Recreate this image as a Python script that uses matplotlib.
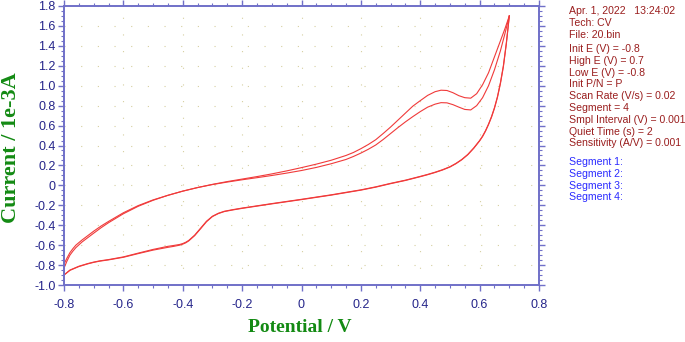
import matplotlib
matplotlib.use('Agg')
import matplotlib.pyplot as plt
from matplotlib.ticker import MultipleLocator, FuncFormatter

# forward (positive-going) scans, two cycles
potential_fwd = [-0.8, -0.79, -0.78, -0.77, -0.76, -0.74, -0.72, -0.7, -0.675, -0.65, -0.6, -0.55, -0.5,
                 -0.45, -0.4, -0.35, -0.3, -0.25, -0.2, -0.15, -0.1, -0.05, 0.0, 0.05, 0.1, 0.15,
                 0.175, 0.2, 0.225, 0.25, 0.275, 0.3, 0.325, 0.35, 0.375, 0.4, 0.425, 0.45, 0.47,
                 0.49, 0.51, 0.53, 0.55, 0.57, 0.59, 0.61, 0.63, 0.65, 0.67, 0.685, 0.7]
current_fwd_1 = [-0.83, -0.76, -0.70, -0.66, -0.625, -0.57, -0.525, -0.48, -0.425, -0.375, -0.285, -0.21, -0.15,
                 -0.10, -0.058, -0.022, 0.01, 0.038, 0.063, 0.088, 0.115, 0.145, 0.178, 0.213, 0.252, 0.3,
                 0.33, 0.368, 0.41, 0.458, 0.52, 0.585, 0.655, 0.725, 0.795, 0.85, 0.903, 0.94, 0.955,
                 0.952, 0.93, 0.90, 0.88, 0.875, 0.92, 1.01, 1.13, 1.29, 1.45, 1.57, 1.70]
current_fwd_2 = [-0.79, -0.73, -0.675, -0.635, -0.60, -0.55, -0.505, -0.46, -0.408, -0.362, -0.275, -0.203, -0.146,
                 -0.10, -0.058, -0.022, 0.008, 0.033, 0.056, 0.077, 0.099, 0.123, 0.149, 0.18, 0.217, 0.26,
                 0.29, 0.324, 0.362, 0.405, 0.46, 0.52, 0.58, 0.637, 0.69, 0.74, 0.785, 0.815, 0.83,
                 0.828, 0.81, 0.785, 0.762, 0.757, 0.80, 0.88, 1.00, 1.16, 1.35, 1.52, 1.70]

# reverse (negative-going) scans, two cycles
potential_rev = [0.7, 0.69, 0.68, 0.67, 0.66, 0.65, 0.64, 0.63, 0.62, 0.61, 0.6, 0.58, 0.56,
                 0.54, 0.52, 0.5, 0.475, 0.45, 0.425, 0.4, 0.35, 0.3, 0.25, 0.2, 0.1, 0.0,
                 -0.1, -0.2, -0.23, -0.26, -0.28, -0.3, -0.32, -0.34, -0.36, -0.38, -0.39, -0.4,
                 -0.41, -0.43, -0.45, -0.5, -0.55, -0.6, -0.65, -0.68, -0.7, -0.72, -0.75, -0.78, -0.8]
current_rev_1 = [1.70, 1.43, 1.20, 1.03, 0.89, 0.78, 0.69, 0.615, 0.55, 0.495, 0.45, 0.375, 0.31,
                 0.26, 0.22, 0.187, 0.157, 0.132, 0.11, 0.09, 0.052, 0.02, -0.015, -0.045, -0.095, -0.14,
                 -0.183, -0.228, -0.243, -0.26, -0.28, -0.31, -0.36, -0.43, -0.50, -0.553, -0.571, -0.584,
                 -0.593, -0.603, -0.612, -0.643, -0.68, -0.718, -0.745, -0.758, -0.77, -0.785, -0.812, -0.85, -0.90]
current_rev_2 = [1.70, 1.42, 1.19, 1.02, 0.882, 0.773, 0.684, 0.61, 0.545, 0.49, 0.446, 0.371, 0.307,
                 0.257, 0.217, 0.184, 0.154, 0.129, 0.107, 0.087, 0.049, 0.017, -0.018, -0.048, -0.098, -0.143,
                 -0.186, -0.231, -0.246, -0.263, -0.283, -0.313, -0.365, -0.436, -0.505, -0.558, -0.577, -0.59,
                 -0.6, -0.612, -0.622, -0.65, -0.685, -0.722, -0.748, -0.761, -0.773, -0.788, -0.815, -0.853, -0.90]

info_lines = ['Apr. 1, 2022   13:24:02', 'Tech: CV', 'File: 20.bin']
param_lines = ['Init E (V) = -0.8', 'High E (V) = 0.7', 'Low E (V) = -0.8', 'Init P/N = P',
               'Scan Rate (V/s) = 0.02', 'Segment = 4', 'Smpl Interval (V) = 0.001',
               'Quiet Time (s) = 2', 'Sensitivity (A/V) = 0.001']
segment_lines = ['Segment 1:', 'Segment 2:', 'Segment 3:', 'Segment 4:']

W, H = 685, 342
fig = plt.figure(figsize=(W / 100, H / 100), dpi=100)
ax = fig.add_axes([64 / W, 1 - 285 / H, 475 / W, 279 / H])

line_col = '#f03a3a'
ax.plot(potential_fwd, current_fwd_1, color=line_col, lw=0.8)
ax.plot(potential_fwd, current_fwd_2, color=line_col, lw=0.8)
ax.plot(potential_rev, current_rev_1, color=line_col, lw=0.8)
ax.plot(potential_rev, current_rev_2, color=line_col, lw=0.8)

ax.set_xlim(-0.8, 0.8)
ax.set_ylim(-1.0, 1.8)

axis_col = '#7070c8'
label_col = '#25258a'
for s in ax.spines.values():
    s.set_color(axis_col)
    s.set_linewidth(1.4)

ax.xaxis.set_major_locator(MultipleLocator(0.2))
ax.xaxis.set_minor_locator(MultipleLocator(0.05))
ax.yaxis.set_major_locator(MultipleLocator(0.2))
ax.yaxis.set_minor_locator(MultipleLocator(0.05))

fmt = FuncFormatter(lambda v, p: '0' if abs(v) < 1e-9 else ('%.1f' % v))
ax.xaxis.set_major_formatter(fmt)
ax.yaxis.set_major_formatter(fmt)

ax.tick_params(which='both', direction='out', color=axis_col, top=True, right=True,
               labeltop=False, labelright=False)
ax.tick_params(which='major', length=4, width=1.0, labelsize=9, labelcolor=label_col)
ax.tick_params(which='minor', length=2.5, width=0.8)
ax.tick_params(axis='x', which='major', pad=6)
ax.tick_params(axis='y', which='major', pad=2)
for t in ax.get_xticklabels() + ax.get_yticklabels():
    t.set_fontfamily('Liberation Sans')

ax.grid(True, which='major', color='#d6cfa0', linestyle=(0, (1, 14)), linewidth=0.8)

green = '#138a13'
fig.text(11 / W, 1 - 148 / H, 'Current / 1e-3A', rotation=90, ha='center', va='center',
         color=green, fontsize=16, fontweight='bold', family='Liberation Serif')
fig.text(300 / W, 1 - 327 / H, 'Potential / V', ha='center', va='center',
         color=green, fontsize=14, fontweight='bold', family='Liberation Serif')

red_txt = '#9a1e1e'
tx = 569 / W
y = 11
for s in info_lines:
    fig.text(tx, 1 - y / H, s, color=red_txt, fontsize=7.6, va='center', family='Liberation Sans')
    y += 11.8
y = 49
for s in param_lines:
    fig.text(tx, 1 - y / H, s, color=red_txt, fontsize=7.6, va='center', family='Liberation Sans')
    y += 11.8
y = 162
for s in segment_lines:
    fig.text(tx, 1 - y / H, s, color='#2a2aff', fontsize=7.6, va='center', family='Liberation Sans')
    y += 11.8

fig.savefig('out.png', dpi=100)
